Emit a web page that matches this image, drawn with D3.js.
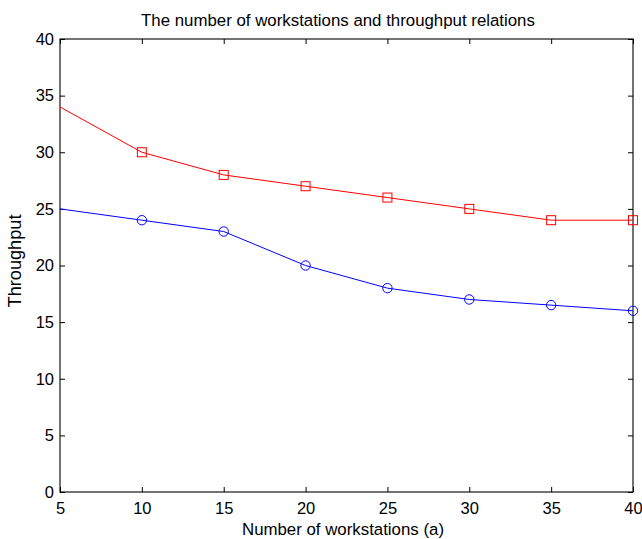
<!DOCTYPE html>
<html><head><meta charset="utf-8">
<script src="https://cdn.jsdelivr.net/npm/d3@7"></script>
<style>body{margin:0;background:#fff}svg{display:block;font-family:"Liberation Sans",Arial,sans-serif}</style>
</head><body>
<svg id="c" width="642" height="539"></svg>
<script>
const workstations = [5, 10, 15, 20, 25, 30, 35, 40];
const seriesRed = [34, 30, 28, 27, 26, 25, 24, 24];
const seriesBlue = [25, 24, 23, 20, 18, 17, 16.5, 16];
const xTicks = [5, 10, 15, 20, 25, 30, 35, 40];
const yTicks = [0, 5, 10, 15, 20, 25, 30, 35, 40];
const titleText = "The number of workstations and throughput relations";
const xLabel = "Number of workstations (a)";
const yLabel = "Throughput";

const svg = d3.select("#c");
const L = 60, R = 633, T = 39, B = 492;
const x = d3.scaleLinear().domain([5, 40]).range([L, R]);
const y = d3.scaleLinear().domain([0, 40]).range([B, T]);

function ax(gen, tx, ty) {
  const g = svg.append("g").attr("transform", `translate(${tx},${ty})`).call(gen);
  g.select(".domain").remove();
  g.selectAll(".tick line").attr("stroke", "#000");
  g.selectAll(".tick text").attr("font-size", 16.5).attr("fill", "#000")
    .attr("font-family", '"Liberation Sans",Arial,sans-serif');
  return g;
}
ax(d3.axisBottom(x).tickValues(xTicks).tickSize(-5).tickPadding(10), 0, B);
ax(d3.axisTop(x).tickValues(xTicks).tickSize(-5).tickFormat(""), 0, T);
ax(d3.axisLeft(y).tickValues(yTicks).tickSize(-5).tickPadding(6), L, 0);
ax(d3.axisRight(y).tickValues(yTicks).tickSize(-5).tickFormat(""), R, 0);

svg.append("rect").attr("x", L).attr("y", T).attr("width", R - L).attr("height", B - T)
  .attr("fill", "none").attr("stroke", "#000").attr("stroke-width", 1.1);

const line = d3.line().x((d, i) => x(workstations[i])).y(d => y(d));
svg.append("path").datum(seriesRed).attr("d", line).attr("fill", "none").attr("stroke", "#ff0000").attr("stroke-width", 1);
svg.append("path").datum(seriesBlue).attr("d", line).attr("fill", "none").attr("stroke", "#0000ff").attr("stroke-width", 1);

const idx = d3.range(1, workstations.length);
svg.append("g").selectAll("rect").data(idx).join("rect")
  .attr("x", i => x(workstations[i]) - 4.5).attr("y", i => y(seriesRed[i]) - 4.5)
  .attr("width", 9).attr("height", 9).attr("fill", "none").attr("stroke", "#ff0000").attr("stroke-width", 1);
svg.append("g").selectAll("circle").data(idx).join("circle")
  .attr("cx", i => x(workstations[i])).attr("cy", i => y(seriesBlue[i])).attr("r", 4.7)
  .attr("fill", "none").attr("stroke", "#0000ff").attr("stroke-width", 1);

function fit(sel, target) {
  const w = sel.node().getComputedTextLength();
  const fs = +sel.attr("font-size");
  if (w > 0) sel.attr("font-size", (fs * target / w).toFixed(2));
}
const t = svg.append("text").attr("x", 338).attr("y", 26).attr("text-anchor", "middle")
  .attr("font-size", 16).text(titleText);
fit(t, 394);
const xl = svg.append("text").attr("x", 343).attr("y", 535).attr("text-anchor", "middle")
  .attr("font-size", 16).text(xLabel);
fit(xl, 202);
const yl = svg.append("text").attr("transform", `translate(20.5,261) rotate(-90)`).attr("text-anchor", "middle")
  .attr("font-size", 16).text(yLabel);
fit(yl, 93);
</script>
</body></html>
